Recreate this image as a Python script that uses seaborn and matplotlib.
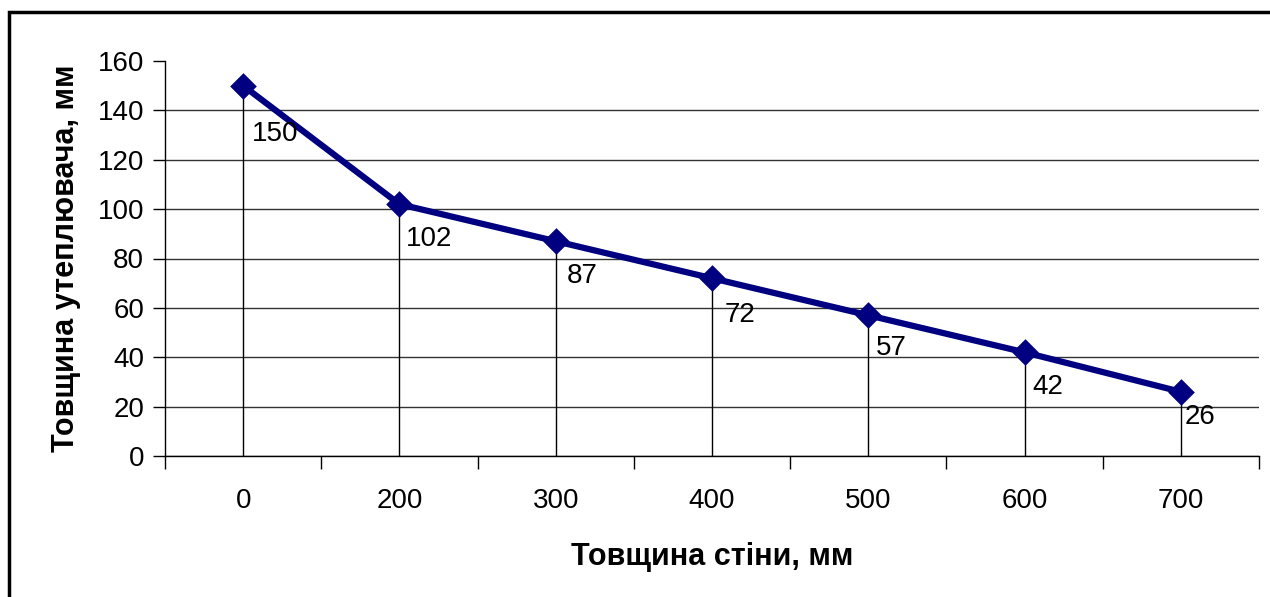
import pandas as pd
import seaborn as sns
import matplotlib.pyplot as plt
from matplotlib.patches import Rectangle

wall = ["0", "200", "300", "400", "500", "600", "700"]
insulation = [150, 102, 87, 72, 57, 42, 26]
y_ticks = [0, 20, 40, 60, 80, 100, 120, 140, 160]
# label offsets from the point, in pixels (right, down)
label_dx = [9, 6, 11, 13, 8, 8, 4]
label_dy = [37, 23, 23, 25, 21, 23, 14]

df = pd.DataFrame({"wall": wall, "insulation": insulation})

sns.set_theme(style="white")
plt.rcParams["font.family"] = ["Liberation Sans", "DejaVu Sans"]
plt.rcParams["text.color"] = "black"
plt.rcParams["axes.labelcolor"] = "black"
plt.rcParams["xtick.color"] = "black"
plt.rcParams["ytick.color"] = "black"

W, H = 1270, 597
fig = plt.figure(figsize=(W / 100, H / 100), dpi=100)
ax = fig.add_axes([165 / W, (H - 456) / H, (1259 - 165) / W, (456 - 61) / H])

# drop lines from each point down to the axis
ax.vlines(range(len(wall)), 0, insulation, color="black", lw=1, zorder=2)

sns.pointplot(data=df, x="wall", y="insulation", order=wall, color="#000080",
              markers="D", markersize=10, linewidth=4.5, ax=ax, zorder=3)

for i, v in enumerate(insulation):
    ax.annotate(str(v), (i, v), xytext=(label_dx[i] * 0.72, -label_dy[i] * 0.72 + 1),
                textcoords="offset points", ha="left", va="top", fontsize=20,
                color="black", zorder=4)

ax.set_xlim(-0.5, len(wall) - 0.5)
ax.set_ylim(0, 160)
ax.set_yticks(y_ticks)
ax.yaxis.grid(True, color="#333333", lw=1)
ax.yaxis.get_gridlines()[-1].set_visible(False)
ax.set_axisbelow(True)

# category boundary ticks on the x axis, labels in the middle
ax.set_xticks([i - 0.5 for i in range(len(wall) + 1)])
ax.set_xticklabels([])
ax.set_xticks(range(len(wall)), minor=True)
ax.set_xticklabels(wall, minor=True)
ax.tick_params(axis="x", which="major", direction="out", length=9, width=1, color="black", bottom=True)
ax.tick_params(axis="x", which="minor", length=0, labelsize=20, pad=23, labelcolor="black")
ax.tick_params(axis="y", direction="out", length=9, width=1, color="black", left=True,
               labelsize=20, pad=6, labelcolor="black")

for s in ["top", "right"]:
    ax.spines[s].set_visible(False)
for s in ["left", "bottom"]:
    ax.spines[s].set_color("black")
    ax.spines[s].set_linewidth(1)

ax.set_xlabel("Товщина стіни, мм", fontsize=22, fontweight="bold", labelpad=20)
ax.set_ylabel("Товщина утеплювача, мм", fontsize=22, fontweight="bold", labelpad=12)

# outer chart frame (only top and left edges fall inside the image)
fig.patches.append(Rectangle((9 / W, -0.1), 1.2, (H - 12) / H + 0.1, transform=fig.transFigure,
                             fill=False, edgecolor="black", lw=2.5))

fig.savefig("out.png", dpi=100)
